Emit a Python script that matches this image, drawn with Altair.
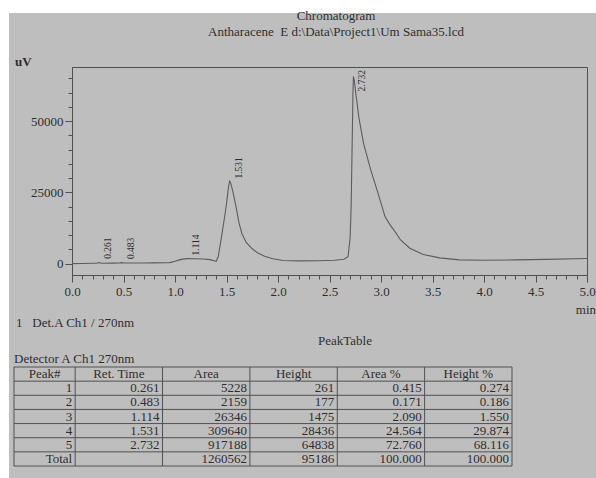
import altair as alt
import pandas as pd

# ---- Chromatogram trace, Det.A Ch1 / 270nm (time in min, signal in uV) ----
time_min = [0.00, 0.10, 0.20, 0.24, 0.255, 0.261, 0.27, 0.30, 0.40, 0.46, 0.483, 0.50,
            0.60, 0.70, 0.80, 0.90, 0.95, 1.00, 1.05, 1.114, 1.20, 1.28, 1.34, 1.38,
            1.40, 1.42, 1.45, 1.48, 1.50, 1.52, 1.531, 1.54, 1.56, 1.59, 1.62, 1.65,
            1.69, 1.74, 1.80, 1.87, 1.95, 2.05, 2.20, 2.40, 2.55, 2.64, 2.68, 2.70,
            2.71, 2.72, 2.728, 2.732, 2.74, 2.756, 2.785, 2.83, 2.90, 2.97, 3.04, 3.09,
            3.14, 3.19, 3.28, 3.41, 3.57, 3.76, 4.00, 4.30, 4.60, 5.00]
signal_uv = [0, 50, 100, 130, 300, 360, 250, 140, 160, 200, 340, 220,
             200, 220, 250, 280, 350, 800, 1400, 1750, 1700, 1600, 1400, 1000,
             800, 2500, 9000, 16000, 21000, 27000, 28900, 28400, 25500, 20500, 14500, 10500,
             7500, 5500, 3800, 2600, 1700, 1100, 950, 1000, 1200, 1500, 2400, 9000,
             20000, 42000, 60000, 65700, 64500, 59700, 51300, 42300, 32900, 24800, 16400, 13500,
             11000, 8300, 5400, 3200, 2000, 1300, 1200, 1300, 1500, 1800]

# ---- Peak table ----
peak_no = ["1", "2", "3", "4", "5"]
ret_time = [0.261, 0.483, 1.114, 1.531, 2.732]
peak_area = [5228, 2159, 26346, 309640, 917188]
peak_height = [261, 177, 1475, 28436, 64838]
area_pct = [0.415, 0.171, 2.090, 24.564, 72.760]
height_pct = [0.274, 0.186, 1.550, 29.874, 68.116]
total_area = 1260562
total_height = 95186
total_area_pct = 100.000
total_height_pct = 100.000
column_titles = ["Peak#", "Ret. Time", "Area", "Height", "Area %", "Height %"]

# axis ticks
x_ticks = [round(i * 0.1, 1) for i in range(51)]
y_ticks = list(range(0, 70000, 5000))

# ---- layout / style ----
W, H = 515, 208
PAD = {"left": 72, "top": 67, "right": 596 - 72 - W, "bottom": 478 - 67 - H}
SERIF = "Liberation Serif"
BG = "#bebebe"
INK = "#2e2e2e"
LINE = "#505050"
TRACE = "#5c5c5c"
NBSP = "\u00a0"

x_scale = alt.Scale(domain=[0, 5], nice=False, zero=False)
y_scale = alt.Scale(domain=[-4000, 69000], nice=False, zero=False)

trace = pd.DataFrame({"t": time_min, "uv": signal_uv})

major_x = "round(datum.value * 10) % 5 === 0"
major_y = "datum.value % 25000 === 0"

line = alt.Chart(trace).mark_line(color=TRACE, strokeWidth=1.1).encode(
    x=alt.X("t:Q", scale=x_scale, axis=alt.Axis(
        values=x_ticks, title=None, grid=False,
        labelExpr=f"{major_x} ? format(datum.value, '.1f') : ''",
        tickSize={"condition": {"test": major_x, "value": 7}, "value": 4},
        labelPadding=3, labelFlush=False, labelOverlap=False)),
    y=alt.Y("uv:Q", scale=y_scale, axis=alt.Axis(
        values=y_ticks, title=None, grid=False,
        labelExpr=f"{major_y} ? format(datum.value, 'd') : ''",
        tickSize={"condition": {"test": major_y, "value": 7}, "value": 4},
        labelPadding=2, labelOverlap=False)),
)

# retention-time labels printed upright beside each peak top
peaks = pd.DataFrame({"rt": ret_time, "h": peak_height,
                      "lab": [f"{v:.3f}" for v in ret_time]})
peak_labels = alt.Chart(peaks).transform_calculate(
    ly="min(datum.h, 59000)"
).mark_text(angle=270, align="left", baseline="middle", dx=4, dy=9,
            font=SERIF, fontSize=9.5, color=INK).encode(
    x=alt.X("rt:Q", scale=x_scale, axis=None),
    y=alt.Y("ly:Q", scale=y_scale, axis=None),
    text="lab:N",
)

# ---- table, drawn in column / row units ----
col_edges = [-0.7, 0, 1, 2, 3, 4, 5]
n_rows = 7
tx_scale = alt.Scale(domain=[col_edges[0], col_edges[-1]], range=[14 - 72, 512 - 72],
                     nice=False, zero=False)
ty_scale = alt.Scale(domain=[0, n_rows], range=[367 - 67, 466 - 67], nice=False, zero=False)

body = []
for i in range(len(peak_no)):
    vals = [peak_no[i], f"{ret_time[i]:.3f}", str(peak_area[i]), str(peak_height[i]),
            f"{area_pct[i]:.3f}", f"{height_pct[i]:.3f}"]
    for c, v in enumerate(vals):
        body.append({"col": col_edges[c + 1], "row": i + 1.5, "text": v})
total_vals = ["Total", "", str(total_area), str(total_height),
              f"{total_area_pct:.3f}", f"{total_height_pct:.3f}"]
for c, v in enumerate(total_vals):
    body.append({"col": col_edges[c + 1], "row": len(peak_no) + 1.5, "text": v})
body = pd.DataFrame(body)

header = pd.DataFrame({
    "col": [(col_edges[c] + col_edges[c + 1]) / 2 for c in range(len(column_titles))],
    "row": [0.5] * len(column_titles),
    "text": column_titles,
})

table_text_style = dict(font=SERIF, fontSize=13, color=INK, baseline="middle")
body_text = alt.Chart(body).mark_text(align="right", dx=-3, **table_text_style).encode(
    x=alt.X("col:Q", scale=tx_scale, axis=None),
    y=alt.Y("row:Q", scale=ty_scale, axis=None),
    text="text:N",
)
header_text = alt.Chart(header).mark_text(align="center", **table_text_style).encode(
    x=alt.X("col:Q", scale=tx_scale, axis=None),
    y=alt.Y("row:Q", scale=ty_scale, axis=None),
    text="text:N",
)

h_lines = pd.DataFrame({"r": list(range(n_rows + 1)),
                        "x0": col_edges[0], "x1": col_edges[-1]})
v_lines = pd.DataFrame({"c": col_edges, "y0": 0, "y1": n_rows})
table_h = alt.Chart(h_lines).mark_rule(color=LINE, strokeWidth=1).encode(
    x=alt.X("x0:Q", scale=tx_scale, axis=None), x2="x1:Q",
    y=alt.Y("r:Q", scale=ty_scale, axis=None),
)
table_v = alt.Chart(v_lines).mark_rule(color=LINE, strokeWidth=1).encode(
    x=alt.X("c:Q", scale=tx_scale, axis=None),
    y=alt.Y("y0:Q", scale=ty_scale, axis=None), y2="y1:Q",
)


def note(text, x, y, align="left", size=13, weight="normal"):
    return alt.Chart(pd.DataFrame({"s": [text]})).mark_text(
        align=align, baseline="middle", font=SERIF, fontSize=size,
        fontWeight=weight, color=INK,
    ).encode(x=alt.value(x), y=alt.value(y), text="s:N")


def paper_edge(x0, x1, y0, y1):
    return alt.Chart(pd.DataFrame({"k": [0]})).mark_rect(color="#ffffff").encode(
        x=alt.value(x0), x2=alt.value(x1), y=alt.value(y0), y2=alt.value(y1))


chart = alt.layer(
    paper_edge(-72, 524, -67, -54),
    paper_edge(-72, -63, -67, 411),
    line,
    peak_labels,
    table_h,
    table_v,
    header_text,
    body_text,
    note("Chromatogram", 264, -51, align="center"),
    note(f"Antharacene{NBSP}{NBSP}E d:\\Data\\Project1\\Um Sama35.lcd", 264, -35,
         align="center"),
    note("uV", -57, -5, weight="bold"),
    note("min", 524, 243, align="right"),
    note(f"1{NBSP}{NBSP}{NBSP}Det.A Ch1 / 270nm", -56, 256),
    note("PeakTable", 273, 274, align="center"),
    note("Detector A Ch1 270nm", -58, 292),
).resolve_scale(
    x="independent", y="independent"
).properties(
    width=W, height=H, background=BG, padding=PAD,
    autosize=alt.AutoSizeParams(type="none"),
).configure_view(
    stroke=LINE, strokeWidth=1
).configure_axis(
    domainColor=LINE, tickColor=LINE, labelColor=INK, labelFont=SERIF,
    labelFontSize=13, domainWidth=1, tickWidth=1,
)

chart.save("out.html", embed_options={"renderer": "svg", "actions": False})
